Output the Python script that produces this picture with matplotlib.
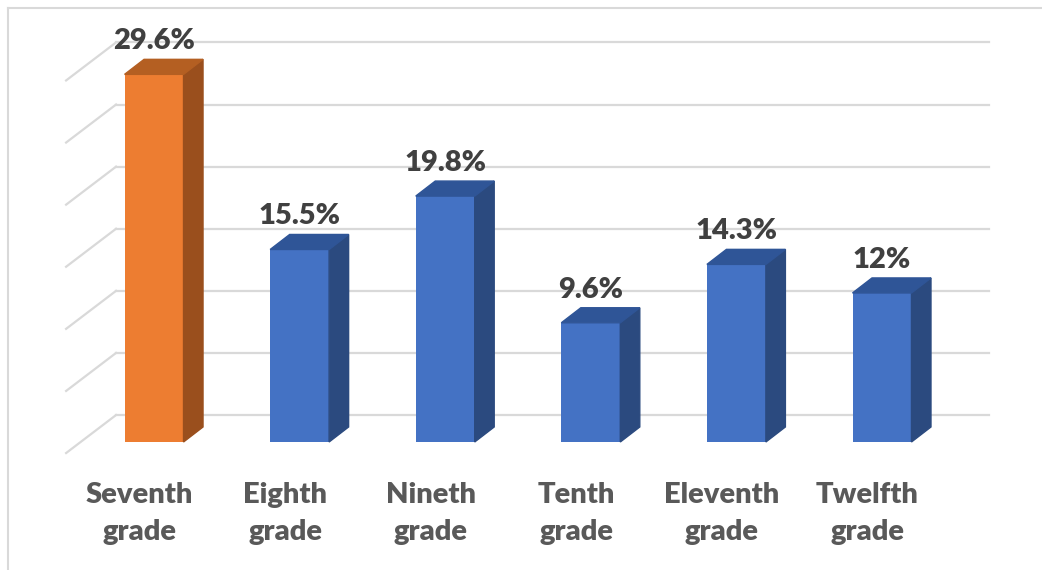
import matplotlib
matplotlib.use("Agg")
import matplotlib.pyplot as plt
from matplotlib.patches import Polygon
from matplotlib.lines import Line2D

# data
grades = ["Seventh\ngrade", "Eighth\ngrade", "Nineth\ngrade", "Tenth\ngrade", "Eleventh\ngrade", "Twelfth\ngrade"]
values = [29.6, 15.5, 19.8, 9.6, 14.3, 12.0]
labels = ["29.6%", "15.5%", "19.8%", "9.6%", "14.3%", "12%"]
grid_vals = [0, 5, 10, 15, 20, 25, 30]

# colours (front, side, top)
orange = ("#ED7D31", "#9A4F1D", "#B45F22")
blue = ("#4472C4", "#2B4A7F", "#2F5597")
bar_cols = [orange] + [blue] * 5

plt.rcParams['font.family'] = ['Lato', 'DejaVu Sans']

fig = plt.figure(figsize=(10.42, 5.70), dpi=100)
ax = fig.add_axes([0, 0, 1, 1])
# pixel-ish mapping: category spacing 145.6 px, 12.42 px per percent
ax.set_xlim(-1.058, 6.099)
ax.set_ylim(-10.306, 35.588)
ax.axis("off")

# 3d look
w = 0.405        # bar width
ddx = 0.134      # bar depth in x
ddy = 1.21       # bar depth in y
wall_dy = 2.17   # back wall offset
floor_dy = -0.89 # front floor edge offset
wall_x0 = -0.261
wall_x1 = 5.735
front_x0 = -0.604

gc = "#D9D9D9"
for g in grid_vals:
    ax.add_line(Line2D([wall_x0, wall_x1], [g + wall_dy, g + wall_dy], color=gc, lw=1.6, zorder=1))
    ax.add_line(Line2D([front_x0, wall_x0], [g + floor_dy, g + wall_dy], color=gc, lw=1.6, zorder=1))

for i, (v, c) in enumerate(zip(values, bar_cols)):
    ax.bar(i, v, width=w, color=c[0], zorder=3)
    r = i + w / 2
    l = i - w / 2
    ax.add_patch(Polygon([(r, 0), (r + ddx, ddy), (r + ddx, v + ddy), (r, v)], closed=True, color=c[1], zorder=3))
    ax.add_patch(Polygon([(l, v), (l + ddx, v + ddy), (r + ddx, v + ddy), (r, v)], closed=True, color=c[2], zorder=3))
    ax.text(i, v + ddy + 0.4, labels[i], ha="center", va="bottom", fontsize=21, fontweight="heavy", color="#404040")
    ax.text(i - 0.1, -5.75, grades[i], ha="center", va="center", fontsize=21, fontweight="heavy",
            color="#595959", linespacing=1.5)

# chart border (left and top visible)
ax.add_line(Line2D([-1.0, 6.2], [34.94, 34.94], color=gc, lw=1.5, zorder=1))
ax.add_line(Line2D([-1.003, -1.003], [-11, 34.94], color=gc, lw=1.5, zorder=1))

fig.savefig("out.png", dpi=100)
